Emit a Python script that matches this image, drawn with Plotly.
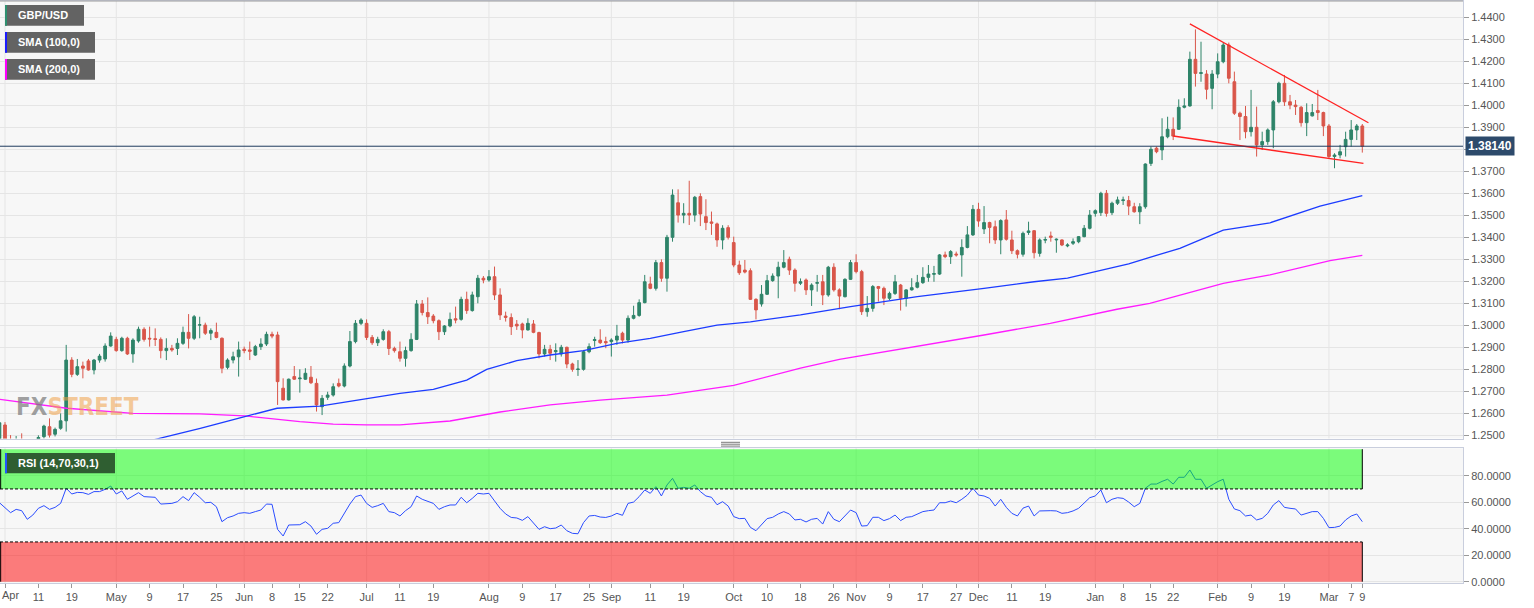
import plotly.graph_objects as go

# ---------------- data ----------------
opens = [
    1.2440, 1.2547, 1.2470, 1.2450, 1.2480, 1.2440, 1.2420, 1.2450, 1.2494, 1.2539,
    1.2505, 1.2532, 1.2566, 1.2842, 1.2777, 1.2815, 1.2838, 1.2797, 1.2842, 1.2847,
    1.2906, 1.2936, 1.2885, 1.2941, 1.2870, 1.2929, 1.2982, 1.2941, 1.2939, 1.2936,
    1.2885, 1.2895, 1.2895, 1.2918, 1.2968, 1.2941, 1.3001, 1.3001, 1.2964, 1.2968,
    1.2941, 1.2809, 1.2842, 1.2857, 1.2891, 1.2888, 1.2865, 1.2903, 1.2915, 1.2959,
    1.2956, 1.2714, 1.2661, 1.2767, 1.2757, 1.2755, 1.2764, 1.2736, 1.2630, 1.2673,
    1.2683, 1.2736, 1.2724, 1.2815, 1.2926, 1.3009, 1.3009, 1.2945, 1.2921, 1.2936,
    1.2971, 1.2895, 1.2880, 1.2850, 1.2885, 1.2936, 1.3097, 1.3058, 1.3042, 1.3021,
    1.2971, 1.2997, 1.3030, 1.3027, 1.3118, 1.3067, 1.3130, 1.3214, 1.3206, 1.3221,
    1.3138, 1.3042, 1.3035, 1.3005, 1.3006, 1.2979, 1.3006, 1.2967, 1.2870, 1.2891,
    1.2880, 1.2870, 1.2900, 1.2824, 1.2799, 1.2800, 1.2880, 1.2931, 1.2933, 1.2926,
    1.2926, 1.2933, 1.2964, 1.2933, 1.3032, 1.3045, 1.3103, 1.3188, 1.3168, 1.3285,
    1.3214, 1.3400, 1.3557, 1.3501, 1.3509, 1.3501, 1.3585, 1.3494, 1.3470, 1.3461,
    1.3388, 1.3444, 1.3376, 1.3274, 1.3251, 1.3248, 1.3118, 1.3097, 1.3141, 1.3203,
    1.3224, 1.3264, 1.3300, 1.3251, 1.3191, 1.3206, 1.3161, 1.3191, 1.3198, 1.3138,
    1.3264, 1.3161, 1.3130, 1.3209, 1.3285, 1.3244, 1.3062, 1.3077, 1.3176, 1.3168,
    1.3123, 1.3145, 1.3183, 1.3123, 1.3161, 1.3173, 1.3194, 1.3218, 1.3232, 1.3233,
    1.3320, 1.3312, 1.3324, 1.3320, 1.3354, 1.3411, 1.3527, 1.3438, 1.3467, 1.3448,
    1.3388, 1.3479, 1.3388, 1.3339, 1.3323, 1.3422, 1.3430, 1.3327, 1.3387, 1.3406,
    1.3388, 1.3388, 1.3361, 1.3373, 1.3380, 1.3403, 1.3441, 1.3509, 1.3512, 1.3600,
    1.3512, 1.3555, 1.3567, 1.3567, 1.3539, 1.3516, 1.3539, 1.3736, 1.3805, 1.3797,
    1.3857, 1.3891, 1.3891, 1.3991, 1.3997, 1.4209, 1.4145, 1.4142, 1.4077, 1.4142,
    1.4198, 1.4274, 1.4107, 1.3964, 1.3949, 1.3880, 1.3900, 1.3820, 1.3835, 1.3888,
    1.4016, 1.4100, 1.4016, 1.4001, 1.3991, 1.3921, 1.3952, 1.3976, 1.3967, 1.3906,
    1.3767, 1.3774, 1.3812, 1.3845, 1.3888, 1.3906,
]
highs = [
    1.2570, 1.2560, 1.2501, 1.2497, 1.2509, 1.2470, 1.2475, 1.2500, 1.2548, 1.2577,
    1.2535, 1.2600, 1.2911, 1.2855, 1.2847, 1.2835, 1.2847, 1.2847, 1.2870, 1.2918,
    1.2968, 1.2948, 1.2948, 1.2948, 1.2941, 1.2994, 1.2991, 1.2994, 1.2986, 1.2945,
    1.2941, 1.2911, 1.2941, 1.2994, 1.3051, 1.3047, 1.3039, 1.3012, 1.2986, 1.3012,
    1.2945, 1.2850, 1.2880, 1.2926, 1.2903, 1.2926, 1.2911, 1.2941, 1.2971, 1.2971,
    1.2971, 1.2759, 1.2758, 1.2815, 1.2800, 1.2805, 1.2815, 1.2758, 1.2683, 1.2698,
    1.2736, 1.2758, 1.2827, 1.2974, 1.3024, 1.3032, 1.3027, 1.2956, 1.2948, 1.2982,
    1.2979, 1.2903, 1.2926, 1.2903, 1.2964, 1.3115, 1.3115, 1.3127, 1.3051, 1.3027,
    1.3001, 1.3058, 1.3085, 1.3130, 1.3153, 1.3153, 1.3229, 1.3224, 1.3251, 1.3267,
    1.3168, 1.3062, 1.3054, 1.3024, 1.3012, 1.3032, 1.3024, 1.2971, 1.2911, 1.2911,
    1.2918, 1.2911, 1.2903, 1.2830, 1.2842, 1.2888, 1.2918, 1.2948, 1.2982, 1.2948,
    1.2941, 1.3002, 1.2971, 1.3045, 1.3089, 1.3118, 1.3229, 1.3221, 1.3297, 1.3300,
    1.3411, 1.3618, 1.3618, 1.3555, 1.3657, 1.3588, 1.3600, 1.3573, 1.3517, 1.3467,
    1.3455, 1.3455, 1.3403, 1.3294, 1.3297, 1.3259, 1.3123, 1.3183, 1.3229, 1.3236,
    1.3289, 1.3342, 1.3312, 1.3259, 1.3213, 1.3213, 1.3191, 1.3229, 1.3229, 1.3270,
    1.3282, 1.3168, 1.3214, 1.3297, 1.3323, 1.3252, 1.3133, 1.3183, 1.3179, 1.3176,
    1.3153, 1.3229, 1.3188, 1.3164, 1.3214, 1.3229, 1.3264, 1.3274, 1.3270, 1.3324,
    1.3335, 1.3342, 1.3335, 1.3391, 1.3451, 1.3547, 1.3557, 1.3542, 1.3471, 1.3476,
    1.3482, 1.3524, 1.3430, 1.3345, 1.3426, 1.3471, 1.3433, 1.3395, 1.3403, 1.3426,
    1.3395, 1.3391, 1.3373, 1.3395, 1.3406, 1.3456, 1.3524, 1.3527, 1.3607, 1.3615,
    1.3562, 1.3585, 1.3585, 1.3588, 1.3557, 1.3555, 1.3736, 1.3812, 1.3812, 1.3941,
    1.3948, 1.3945, 1.4027, 1.4032, 1.4244, 1.4345, 1.4289, 1.4160, 1.4160, 1.4236,
    1.4285, 1.4285, 1.4153, 1.3971, 1.3997, 1.4070, 1.3994, 1.3880, 1.3895, 1.4024,
    1.4107, 1.4138, 1.4047, 1.4024, 1.3997, 1.4009, 1.4006, 1.4070, 1.3971, 1.3915,
    1.3782, 1.3820, 1.3880, 1.3933, 1.3915, 1.3915,
]
lows = [
    1.2420, 1.2440, 1.2410, 1.2420, 1.2400, 1.2390, 1.2400, 1.2430, 1.2485, 1.2490,
    1.2495, 1.2525, 1.2517, 1.2764, 1.2770, 1.2759, 1.2794, 1.2777, 1.2830, 1.2835,
    1.2903, 1.2880, 1.2880, 1.2865, 1.2830, 1.2921, 1.2926, 1.2903, 1.2906, 1.2850,
    1.2842, 1.2880, 1.2865, 1.2911, 1.2895, 1.2933, 1.2941, 1.2956, 1.2933, 1.2941,
    1.2782, 1.2800, 1.2827, 1.2767, 1.2873, 1.2842, 1.2861, 1.2888, 1.2906, 1.2941,
    1.2638, 1.2658, 1.2658, 1.2752, 1.2694, 1.2752, 1.2733, 1.2608, 1.2592, 1.2661,
    1.2676, 1.2718, 1.2718, 1.2809, 1.2918, 1.3001, 1.2933, 1.2911, 1.2906, 1.2930,
    1.2865, 1.2876, 1.2835, 1.2812, 1.2880, 1.2933, 1.3045, 1.3006, 1.3009, 1.2933,
    1.2956, 1.2991, 1.3009, 1.3021, 1.3052, 1.3062, 1.3100, 1.3191, 1.3198, 1.3115,
    1.3024, 1.3017, 1.2956, 1.2979, 1.2941, 1.2976, 1.2964, 1.2850, 1.2858, 1.2842,
    1.2835, 1.2858, 1.2805, 1.2789, 1.2770, 1.2794, 1.2873, 1.2903, 1.2915, 1.2896,
    1.2858, 1.2911, 1.2918, 1.2921, 1.3027, 1.3039, 1.3100, 1.3164, 1.3158, 1.3198,
    1.3153, 1.3380, 1.3467, 1.3464, 1.3456, 1.3471, 1.3451, 1.3433, 1.3411, 1.3357,
    1.3345, 1.3390, 1.3264, 1.3229, 1.3236, 1.3115, 1.3027, 1.3085, 1.3138, 1.3198,
    1.3123, 1.3259, 1.3229, 1.3153, 1.3183, 1.3138, 1.3088, 1.3153, 1.3092, 1.3130,
    1.3153, 1.3073, 1.3127, 1.3206, 1.3236, 1.3047, 1.3039, 1.3062, 1.3108, 1.3092,
    1.3115, 1.3138, 1.3067, 1.3085, 1.3158, 1.3168, 1.3188, 1.3198, 1.3198, 1.3229,
    1.3305, 1.3279, 1.3312, 1.3221, 1.3350, 1.3406, 1.3448, 1.3415, 1.3373, 1.3370,
    1.3323, 1.3385, 1.3324, 1.3304, 1.3312, 1.3411, 1.3304, 1.3312, 1.3373, 1.3380,
    1.3330, 1.3360, 1.3355, 1.3365, 1.3373, 1.3400, 1.3436, 1.3494, 1.3497, 1.3494,
    1.3501, 1.3547, 1.3547, 1.3501, 1.3512, 1.3460, 1.3530, 1.3724, 1.3782, 1.3751,
    1.3850, 1.3842, 1.3888, 1.3986, 1.3994, 1.4085, 1.4107, 1.4027, 1.3982, 1.4123,
    1.4191, 1.4100, 1.3956, 1.3842, 1.3850, 1.3858, 1.3767, 1.3797, 1.3820, 1.3805,
    1.4009, 1.3997, 1.3982, 1.3956, 1.3903, 1.3860, 1.3949, 1.3933, 1.3860, 1.3759,
    1.3714, 1.3759, 1.3767, 1.3812, 1.3842, 1.3785,
]
closes = [
    1.2557, 1.2460, 1.2440, 1.2470, 1.2440, 1.2420, 1.2450, 1.2490, 1.2542, 1.2501,
    1.2527, 1.2566, 1.2842, 1.2777, 1.2812, 1.2805, 1.2797, 1.2842, 1.2860, 1.2906,
    1.2951, 1.2885, 1.2941, 1.2870, 1.2933, 1.2982, 1.2936, 1.2938, 1.2936, 1.2885,
    1.2895, 1.2888, 1.2918, 1.2968, 1.2941, 1.3039, 1.3002, 1.2964, 1.2976, 1.2945,
    1.2805, 1.2842, 1.2857, 1.2888, 1.2885, 1.2882, 1.2903, 1.2915, 1.2959, 1.2951,
    1.2744, 1.2661, 1.2755, 1.2755, 1.2760, 1.2782, 1.2739, 1.2638, 1.2668, 1.2683,
    1.2721, 1.2724, 1.2815, 1.2926, 1.3009, 1.3024, 1.2945, 1.2921, 1.2936, 1.2971,
    1.2895, 1.2885, 1.2850, 1.2885, 1.2936, 1.3097, 1.3058, 1.3039, 1.3021, 1.2971,
    1.2997, 1.3027, 1.3024, 1.3118, 1.3067, 1.3138, 1.3214, 1.3206, 1.3221, 1.3138,
    1.3047, 1.3036, 1.2994, 1.2997, 1.2979, 1.3009, 1.2968, 1.2870, 1.2891, 1.2873,
    1.2885, 1.2900, 1.2824, 1.2800, 1.2801, 1.2880, 1.2903, 1.2935, 1.2921, 1.2921,
    1.2933, 1.2951, 1.2933, 1.3032, 1.3045, 1.3103, 1.3198, 1.3168, 1.3285, 1.3214,
    1.3400, 1.3592, 1.3501, 1.3509, 1.3501, 1.3582, 1.3506, 1.3467, 1.3464, 1.3388,
    1.3441, 1.3400, 1.3274, 1.3239, 1.3242, 1.3118, 1.3070, 1.3141, 1.3203, 1.3224,
    1.3264, 1.3285, 1.3251, 1.3191, 1.3198, 1.3161, 1.3183, 1.3194, 1.3138, 1.3264,
    1.3161, 1.3133, 1.3209, 1.3285, 1.3244, 1.3062, 1.3077, 1.3176, 1.3168, 1.3123,
    1.3145, 1.3198, 1.3123, 1.3161, 1.3171, 1.3194, 1.3218, 1.3233, 1.3235, 1.3320,
    1.3312, 1.3335, 1.3320, 1.3354, 1.3411, 1.3527, 1.3474, 1.3467, 1.3445, 1.3388,
    1.3476, 1.3391, 1.3339, 1.3323, 1.3418, 1.3429, 1.3330, 1.3388, 1.3390, 1.3400,
    1.3391, 1.3365, 1.3365, 1.3380, 1.3403, 1.3441, 1.3501, 1.3521, 1.3600, 1.3509,
    1.3555, 1.3570, 1.3570, 1.3542, 1.3516, 1.3539, 1.3733, 1.3800, 1.3789, 1.3857,
    1.3891, 1.3860, 1.3991, 1.3997, 1.4209, 1.4145, 1.4148, 1.4073, 1.4142, 1.4198,
    1.4274, 1.4123, 1.3964, 1.3949, 1.3880, 1.3900, 1.3820, 1.3835, 1.3888, 1.4016,
    1.4100, 1.4016, 1.4001, 1.3994, 1.3921, 1.3967, 1.3967, 1.3967, 1.3906, 1.3767,
    1.3774, 1.3789, 1.3845, 1.3888, 1.3906, 1.3814,
]
rsi = [
    59.6, 55.5, 52.1, 54.6, 53.6, 47.1, 50.3, 55.4, 57.4, 54.6,
    56.1, 59.1, 70.5, 66.2, 67.4, 67.2, 65.9, 68.0, 68.0, 69.7,
    72.2, 66.2, 68.5, 62.2, 64.7, 67.2, 64.2, 63.7, 63.7, 58.6,
    59.1, 59.1, 60.4, 64.2, 61.2, 67.2, 63.7, 59.6, 59.9, 56.6,
    45.3, 48.3, 49.6, 51.6, 52.1, 51.6, 52.9, 54.1, 58.6, 58.4,
    39.5, 34.5, 42.8, 42.8, 43.0, 45.3, 42.0, 35.8, 39.5, 40.3,
    44.1, 44.6, 51.6, 58.6, 64.2, 65.4, 59.1, 56.1, 57.4, 59.1,
    52.9, 52.1, 49.6, 53.6, 56.6, 64.7, 62.2, 60.9, 59.1, 54.6,
    56.6, 57.9, 57.9, 63.7, 59.6, 62.9, 66.7, 66.2, 66.7, 61.0,
    55.4, 51.1, 48.5, 48.1, 46.3, 49.1, 44.6, 39.5, 41.5, 40.0,
    40.5, 42.8, 38.5, 36.5, 36.2, 44.6, 49.6, 50.0, 48.8, 48.5,
    49.6, 51.6, 50.1, 59.1, 60.1, 64.2, 69.2, 66.7, 71.7, 64.7,
    73.0, 78.0, 70.5, 71.2, 70.5, 73.0, 68.0, 64.7, 63.7, 58.1,
    60.4, 57.1, 49.1, 47.6, 47.8, 41.0, 38.5, 42.8, 47.6, 48.6,
    51.1, 52.9, 51.1, 46.6, 47.1, 45.1, 47.1, 47.8, 43.5, 52.9,
    47.1, 45.3, 49.6, 54.1, 52.1, 42.0, 42.3, 48.6, 48.6, 46.1,
    47.6, 50.3, 46.1, 48.6, 49.1, 51.1, 52.9, 53.6, 54.1, 59.6,
    59.6, 60.9, 59.6, 62.2, 65.4, 70.5, 65.4, 64.7, 62.9, 57.1,
    62.2, 56.1, 51.6, 49.6, 55.5, 57.1, 49.6, 53.4, 53.6, 53.6,
    53.4, 51.6, 52.1, 53.4, 55.4, 59.1, 63.4, 64.7, 69.2, 59.6,
    62.2, 63.4, 62.9, 60.1, 56.6, 59.1, 70.5, 73.7, 73.7, 75.7,
    77.3, 73.7, 78.8, 78.8, 84.3, 77.3, 77.3, 70.5, 73.0, 75.5,
    77.3, 62.2, 54.9, 53.6, 49.6, 50.3, 46.6, 47.8, 51.6, 57.9,
    61.2, 56.1, 55.4, 54.9, 50.3, 51.6, 52.9, 52.9, 47.8, 40.8,
    41.0, 42.0, 46.6, 49.6, 51.1, 45.3,
]
sma100_idx = [23, 28.3, 36.1, 44.1, 49.9, 57.6, 66.1, 72, 78, 84, 87.6, 93, 99, 105,
              111, 117, 123, 129, 135, 144, 153, 159, 165, 177, 186, 192, 198, 203,
              206.8, 212.2, 220, 228.4, 237.4, 245]
sma100_val = [1.2450, 1.2483, 1.2532, 1.2585, 1.2623, 1.2633, 1.2668, 1.2691, 1.2709,
              1.2751, 1.2800, 1.2839, 1.2865, 1.2885, 1.2918, 1.2941, 1.2971, 1.3001,
              1.3016, 1.3047, 1.3085, 1.3107, 1.3130, 1.3168, 1.3198, 1.3214, 1.3251,
              1.3279, 1.3309, 1.3350, 1.3433, 1.3466, 1.3542, 1.3589]
sma200_idx = [0, 12.1, 24, 36, 44.1, 54, 60, 66, 72, 81, 90, 99, 108, 120, 132, 144,
              151, 165, 177, 188.9, 200.9, 206.8, 220, 228.4, 239.2, 245]
sma200_val = [1.2664, 1.2623, 1.2600, 1.2597, 1.2588, 1.2562, 1.2551, 1.2547, 1.2547,
              1.2565, 1.2606, 1.2638, 1.2660, 1.2683, 1.2727, 1.2805, 1.2845, 1.2903,
              1.2956, 1.3009, 1.3073, 1.3100, 1.3191, 1.3229, 1.3294, 1.3318]
wedge_upper_idx = [214.0, 246.1]
wedge_upper_val = [1.4370, 1.3921]
wedge_lower_idx = [211.0, 245.2]
wedge_lower_val = [1.3860, 1.3736]

tick_idx = [1, 7, 13, 21, 27, 33, 39, 44, 49, 54, 59, 66, 72, 78, 88, 94, 100, 106,
            110, 117, 123, 132, 138, 144, 150, 154, 160, 166, 172, 176, 182, 188,
            197, 202, 207, 211, 219, 225, 231, 239, 243, 245]
tick_text = ["Apr", "11", "19", "May", "9", "17", "25", "Jun", "8",
             "15", "22", "Jul", "11", "19", "Aug", "9", "17", "25", "Sep", "11", "19",
             "Oct", "10", "18", "26", "Nov", "9", "17", "27", "Dec", "11", "19", "Jan",
             "8", "15", "22", "Feb", "9", "19", "Mar", "7", "9"]
month_idx = [1, 21, 44, 66, 88, 110, 132, 154, 176, 197, 219, 239]
price_ticks = [1.25, 1.26, 1.27, 1.28, 1.29, 1.30, 1.31, 1.32, 1.33, 1.34, 1.35, 1.36,
               1.37, 1.38, 1.39, 1.40, 1.41, 1.42, 1.43, 1.44]
rsi_ticks = [0, 20, 40, 60, 80]

# ---------------- styling ----------------
W, H = 1534, 608
ML, MR, MT, MB = 0, 71, 1, 25
PW, PH = W - ML - MR, H - MT - MB

def px(x):
    return (x - ML) / PW

def py(y):
    return 1 - (y - MT) / PH

MAIN_TOP, MAIN_BOT = 1, 438.5
RSI_TOP = 448.3
X_RANGE = [0.1, 263.1]
Y_RANGE = [1.24855, 1.44741]
RSI_RANGE = [-0.98, 100.68]

GREEN = "#2e8469"
RED = "#d9564a"
FONT = "Arial, Liberation Sans, sans-serif"
AXCOL = "#c9cedd"
GRID = "#e5e5e5"

xs = list(range(len(closes)))
last = xs[-1]
last_close = closes[-1]

# price tick labels; the one hidden behind the current-price box is left blank
price_text = ["" if abs(v - last_close) < 0.004 else "%.4f" % v for v in price_ticks]
# the first date label sits at the very left edge; it is drawn as an annotation
# anchored to its tick so that it stays inside the figure
axis_text = [""] + tick_text[1:]

fig = go.Figure()
fig.add_trace(go.Candlestick(
    x=xs, open=opens, high=highs, low=lows, close=closes,
    increasing=dict(line=dict(color=GREEN, width=1), fillcolor=GREEN),
    decreasing=dict(line=dict(color=RED, width=1), fillcolor=RED),
    whiskerwidth=0, hoverinfo="skip", xaxis="x", yaxis="y"))
fig.add_trace(go.Scatter(x=sma200_idx, y=sma200_val, mode="lines",
                         line=dict(color="#ff1cff", width=1.3), hoverinfo="skip",
                         xaxis="x", yaxis="y"))
fig.add_trace(go.Scatter(x=sma100_idx, y=sma100_val, mode="lines",
                         line=dict(color="#1c3cff", width=1.3), hoverinfo="skip",
                         xaxis="x", yaxis="y"))
fig.add_trace(go.Scatter(x=wedge_upper_idx, y=wedge_upper_val, mode="lines",
                         line=dict(color="#ff2222", width=1.2), hoverinfo="skip",
                         xaxis="x", yaxis="y"))
fig.add_trace(go.Scatter(x=wedge_lower_idx, y=wedge_lower_val, mode="lines",
                         line=dict(color="#ff2222", width=1.5), hoverinfo="skip",
                         xaxis="x", yaxis="y"))
fig.add_trace(go.Scatter(x=xs, y=rsi, mode="lines",
                         line=dict(color="#2b4dff", width=1), hoverinfo="skip",
                         xaxis="x2", yaxis="y2"))

shapes = []
for m in month_idx:
    shapes.append(dict(type="line", xref="x", yref="y domain", x0=m, x1=m, y0=0, y1=1,
                       line=dict(color=GRID, width=1), layer="below"))
    shapes.append(dict(type="line", xref="x2", yref="y2 domain", x0=m, x1=m, y0=0, y1=1,
                       line=dict(color=GRID, width=1), layer="below"))

# current price line
shapes.append(dict(type="line", xref="x domain", yref="y", x0=0, x1=1,
                   y0=last_close, y1=last_close, line=dict(color="#1f3b5e", width=1)))
# darker top border
shapes.append(dict(type="line", xref="x domain", yref="y domain", x0=0, x1=1, y0=1, y1=1,
                   line=dict(color="#9c9c9c", width=1)))

# RSI bands
for lo, hi, col in [(70, 100, "rgba(0,255,0,0.5)"), (0, 30, "rgba(255,0,0,0.5)")]:
    shapes.append(dict(type="rect", xref="x2", yref="y2", x0=X_RANGE[0], x1=last,
                       y0=lo, y1=hi, fillcolor=col, line=dict(width=0), layer="above"))
    shapes.append(dict(type="line", xref="x2", yref="y2", x0=last, x1=last, y0=lo, y1=hi,
                       line=dict(color="#000", width=1)))
    shapes.append(dict(type="line", xref="x2", yref="y2", x0=X_RANGE[0] + 0.12,
                       x1=X_RANGE[0] + 0.12, y0=lo, y1=hi, line=dict(color="#000", width=1)))
for lvl in (70, 30):
    shapes.append(dict(type="line", xref="x2", yref="y2", x0=X_RANGE[0], x1=last,
                       y0=lvl, y1=lvl, line=dict(color="#000", width=1, dash="3px,2px")))

# legend boxes
def box(x0, y0, x1, y1, color):
    return dict(type="rect", xref="paper", yref="paper", x0=px(x0), x1=px(x1),
                y0=py(y1), y1=py(y0), fillcolor=color, line=dict(width=0), layer="above")

legend_items = [
    ("GBP/USD", 5, 84, 5, 25.7, "#636363", "#2e8f6f"),
    ("SMA (100,0)", 5, 95, 32, 52.7, "#636363", "#1c1cff"),
    ("SMA (200,0)", 5, 95, 59, 79.7, "#636363", "#ff00ff"),
    ("RSI (14,70,30,1)", 5, 115, 453, 473.3, "#2f5e31", "#2255ff"),
]
annotations = []
for text, x0, x1, y0, y1, bg, stripe in legend_items:
    shapes.append(box(x0, y0, x1, y1, bg))
    shapes.append(box(x0, y0, x0 + 2, y1, stripe))
    annotations.append(dict(xref="paper", yref="paper", x=px(16), y=py((y0 + y1) / 2),
                            xanchor="left", yanchor="middle", text="<b>%s</b>" % text,
                            showarrow=False,
                            font=dict(color="white", size=11, family=FONT)))

# drag handle between panels
for yy in (442.3, 444.2, 446.1):
    shapes.append(dict(type="line", xref="paper", yref="paper", x0=px(721), x1=px(740),
                       y0=py(yy), y1=py(yy), line=dict(color="#7a7a7a", width=1)))

# watermark
wm_font = "DejaVu Sans Condensed, Liberation Sans Narrow, Arial Narrow, Arial, sans-serif"
annotations.append(dict(xref="paper", yref="paper", x=px(14), y=py(406.5), xanchor="left",
                        yanchor="middle", showarrow=False,
                        text="<b><span style='color:rgba(120,120,120,0.7)'>FX</span>"
                             "<span style='color:rgba(240,160,70,0.55)'>STREET</span></b>",
                        font=dict(size=24, family=wm_font)))

# first date label, kept inside the left edge
annotations.append(dict(xref="x2", yref="paper", x=tick_idx[0], y=py(594.5),
                        xanchor="left", yanchor="middle", xshift=-5, showarrow=False,
                        text=tick_text[0], font=dict(size=11, color="#555", family=FONT)))

# price label
annotations.append(dict(xref="x domain", yref="y", x=1, y=last_close, xanchor="left",
                        yanchor="middle", xshift=2, text="<b>%.5f</b>" % last_close,
                        showarrow=False, bgcolor="#2d4a6b", borderpad=2,
                        font=dict(color="white", size=12, family=FONT)))

axis_common = dict(showline=True, linecolor=AXCOL, linewidth=1, mirror=True,
                   zeroline=False, automargin=False)
fig.update_layout(
    width=W, height=H,
    margin=dict(l=ML, r=MR, t=MT, b=MB, autoexpand=False),
    paper_bgcolor="white", plot_bgcolor="#f7f7f7",
    showlegend=False, hovermode=False,
    font=dict(family=FONT, size=11, color="#555"),
    xaxis=dict(domain=[0, 1], anchor="y", range=X_RANGE, showticklabels=False,
               showgrid=False, ticks="", rangeslider=dict(visible=False), **axis_common),
    xaxis2=dict(domain=[0, 1], anchor="y2", matches="x", range=X_RANGE,
                tickmode="array", tickvals=tick_idx, ticktext=axis_text,
                ticks="outside", ticklen=4, tickcolor="#999", showgrid=False,
                tickfont=dict(size=11, color="#555", family=FONT),
                rangeslider=dict(visible=False), **axis_common),
    yaxis=dict(domain=[py(MAIN_BOT), py(MAIN_TOP)], anchor="x", side="right",
               range=Y_RANGE, tickmode="array", tickvals=price_ticks,
               ticktext=price_text,
               ticks="outside", ticklen=5, tickcolor="#999", showgrid=True,
               gridcolor=GRID, tickfont=dict(size=11, color="#555", family=FONT),
               **axis_common),
    yaxis2=dict(domain=[0, py(RSI_TOP)], anchor="x2", side="right",
                range=RSI_RANGE, tickmode="array", tickvals=rsi_ticks,
                ticktext=["%.4f" % v for v in rsi_ticks],
                ticks="outside", ticklen=5, tickcolor="#999",
                showgrid=True, gridcolor=GRID,
                tickfont=dict(size=11, color="#555", family=FONT), **axis_common),
    shapes=shapes,
    annotations=annotations,
)

fig.write_html("out.html")
